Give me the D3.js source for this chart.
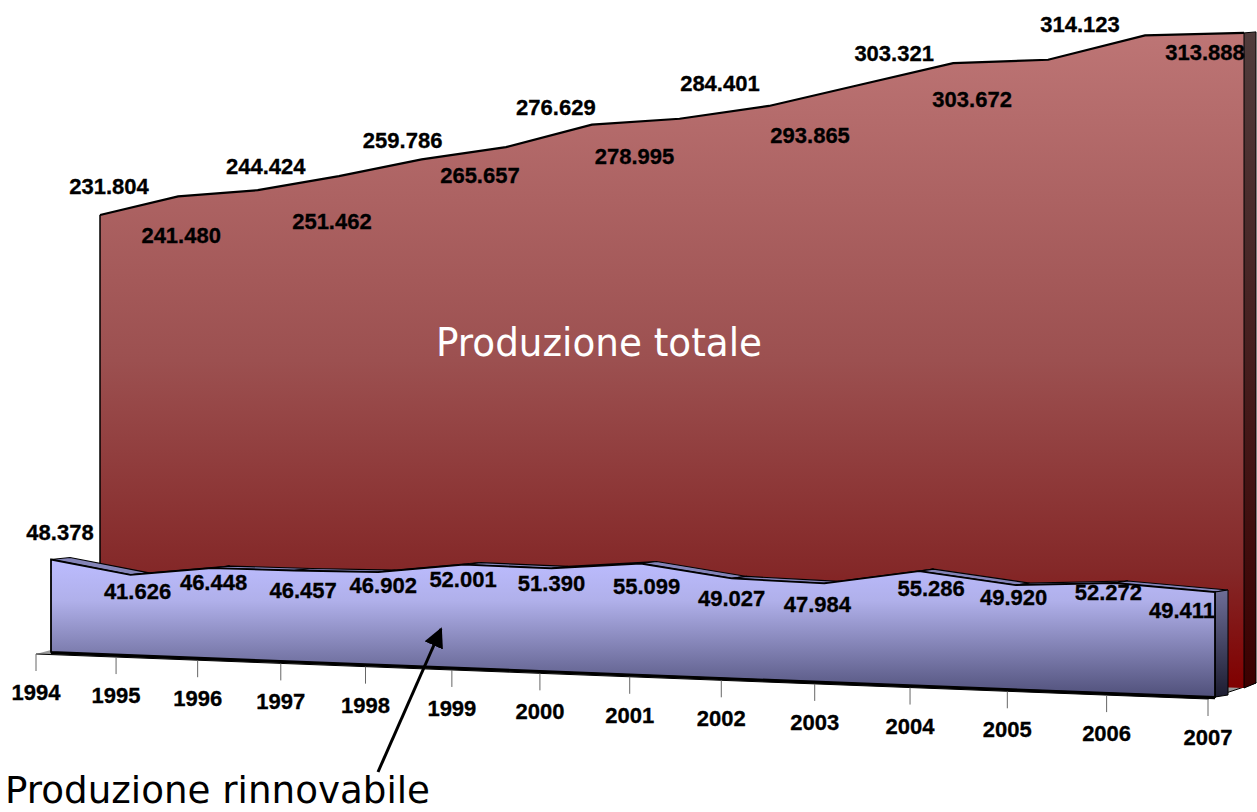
<!DOCTYPE html>
<html>
<head>
<meta charset="utf-8">
<script src="https://cdn.jsdelivr.net/npm/d3@7"></script>
<style>
  html, body { margin: 0; padding: 0; background: #fff; overflow: hidden; }
  text { font-family: "Liberation Sans", Arial, sans-serif; }
</style>
</head>
<body>
<div id="chart"></div>
<script>
// values
const years = [1994, 1995, 1996, 1997, 1998, 1999, 2000, 2001, 2002, 2003, 2004, 2005, 2006, 2007];
const totale = [231804, 241480, 244424, 251462, 259786, 265657, 276629, 278995, 284401, 293865, 303321, 303672, 314123, 313888];
const rinnovabile = [48378, 41626, 46448, 46457, 46902, 52001, 51390, 55099, 49027, 47984, 55286, 49920, 52272, 49411];

// label nudges from their point, [dx, dy]
const totaleNudge = [[9, -21], [3, 47], [8, -16], [-7, 53], [-19, -11], [-26, 36], [-36, -10], [-45, 45], [-49, -15], [-50, 58], [-59, -2], [-76, 47], [-65, -3], [-39, 27]];
const rinnovabileNudge = [[9, -20], [7, 24], [2, 22], [9, 27], [5, 21], [-1, 22], [0, 23], [6, 30], [0, 28], [-7, 29], [12, 25], [-2, 20], [-6, 17], [-33, 26]];

const w = 1257, h = 812;
const formatValue = v => d3.format(",")(v).replace(",", ".");

const svg = d3.select("#chart")
    .append("svg")
    .attr("width", w)
    .attr("height", h)
    .style("display", "block");

// perspective: years come closer to the viewer going right
const c = 0.12;
const yearScale = d3.scaleLinear().domain([1994, 2007]).range([0, 1]);
const persp = yr => {
    const t = yearScale(yr);
    return t * (1 - c) / (1 - c * t);
};

// a vertical plane of the 3D box, given by its two ends
const plane = (xs, bases, ks) => {
    const x = d3.scaleLinear().range(xs);
    const base = d3.scaleLinear().range(bases);
    const k = d3.scaleLinear().domain(d3.range(ks.length).map(i => i / (ks.length - 1))).range(ks);
    return {
        x: yr => x(persp(yr)),
        base: yr => base(persp(yr)),
        y: (yr, v) => base(persp(yr)) - k(persp(yr)) * v / 1000
    };
};

const totFront = plane([100, 1244], [648, 688], [1.868, 1.968, 2.087]);
const renFront = plane([51, 1215], [652, 697], [1.912, 2.125]);
const renBack = plane([70, 1228], [650, 695], [1.912, 2.125]);
const axisPlane = plane([36, 1208], [654, 699], [0, 0]);

// gradients
const defs = svg.append("defs");
const addGradient = (id, stops) => {
    defs.append("linearGradient")
        .attr("id", id)
        .attr("x1", 0).attr("y1", 0).attr("x2", 0).attr("y2", 1)
        .selectAll("stop")
        .data(stops)
        .join("stop")
        .attr("offset", d => d[0])
        .attr("stop-color", d => d[1]);
};
addGradient("gradTot", [[0, "#bd7575"], [0.5, "#9c5050"], [0.82, "#842828"], [1, "#800000"]]);
addGradient("gradTotSide", [[0, "#503c3c"], [1, "#3c0000"]]);
addGradient("gradRen", [[0, "#bcbcff"], [0.3, "#b0b0ea"], [1, "#50507a"]]);
addGradient("gradRenSide", [[0, "#6e6e98"], [1, "#1c1c30"]]);

defs.append("marker")
    .attr("id", "arrowhead")
    .attr("viewBox", "0 0 10 10")
    .attr("refX", 9)
    .attr("refY", 5)
    .attr("markerUnits", "userSpaceOnUse")
    .attr("markerWidth", 20)
    .attr("markerHeight", 20)
    .attr("orient", "auto")
    .append("path")
    .attr("d", "M0,0 L10,5 L0,10 Z")
    .attr("fill", "#000");

// floor
svg.append("path")
    .attr("d", d3.line()([
        [axisPlane.x(1994), axisPlane.base(1994)],
        [axisPlane.x(2007), axisPlane.base(2007)],
        [1256, 683],
        [1245, 650],
        [51, 650]
    ]))
    .attr("fill", "#9a9a9a")
    .attr("stroke", "#000")
    .attr("stroke-width", 1);

// produzione totale
const totTop = years.map((yr, i) => [totFront.x(yr), totFront.y(yr, totale[i])]);

svg.append("path")
    .attr("d", d3.line()([
        ...totTop,
        [totFront.x(2007), totFront.base(2007)],
        [totFront.x(1994), totFront.base(1994)]
    ]) + "Z")
    .attr("fill", "url(#gradTot)");

svg.append("path")
    .attr("d", d3.line()([
        [totFront.x(2007), totFront.y(2007, totale[13])],
        [1256, totFront.y(2007, totale[13]) - 1],
        [1256, 683],
        [totFront.x(2007), totFront.base(2007)]
    ]) + "Z")
    .attr("fill", "url(#gradTotSide)")
    .attr("stroke", "#000")
    .attr("stroke-width", 1);

svg.append("path")
    .attr("d", d3.line()(totTop))
    .attr("fill", "none")
    .attr("stroke", "#000")
    .attr("stroke-width", 2.2);

svg.append("line")
    .attr("x1", totTop[0][0]).attr("y1", totTop[0][1])
    .attr("x2", totTop[0][0]).attr("y2", totFront.base(1994))
    .attr("stroke", "#000")
    .attr("stroke-width", 1.5);

// produzione rinnovabile, top faces first and then the front
const renTop = years.map((yr, i) => [renFront.x(yr), renFront.y(yr, rinnovabile[i])]);
const renTopBack = years.map((yr, i) => [renBack.x(yr), renBack.y(yr, rinnovabile[i])]);

svg.selectAll(".topface")
    .data(d3.pairs(d3.range(years.length)))
    .join("path")
    .attr("class", "topface")
    .attr("d", d => d3.line()([renTop[d[0]], renTop[d[1]], renTopBack[d[1]], renTopBack[d[0]]]) + "Z")
    .attr("fill", "#8484b8")
    .attr("stroke", "#000")
    .attr("stroke-width", 1.2);

svg.append("path")
    .attr("d", d3.line()([
        renTop[13],
        renTopBack[13],
        [renBack.x(2007), renBack.base(2007)],
        [renFront.x(2007), renFront.base(2007)]
    ]) + "Z")
    .attr("fill", "url(#gradRenSide)")
    .attr("stroke", "#000")
    .attr("stroke-width", 1);

svg.append("path")
    .attr("d", d3.line()([
        ...renTop,
        [renFront.x(2007), renFront.base(2007)],
        [renFront.x(1994), renFront.base(1994)]
    ]) + "Z")
    .attr("fill", "url(#gradRen)")
    .attr("stroke", "#000")
    .attr("stroke-width", 1.8);

// the dark rim along the bottom of the front
svg.append("line")
    .attr("x1", axisPlane.x(1994) + 15).attr("y1", renFront.base(1994) + 1)
    .attr("x2", renFront.x(2007)).attr("y2", renFront.base(2007) + 1)
    .attr("stroke", "#000")
    .attr("stroke-width", 2.4);

// ticks and year labels
svg.selectAll(".tick")
    .data(years)
    .join("line")
    .attr("class", "tick")
    .attr("x1", d => axisPlane.x(d))
    .attr("x2", d => axisPlane.x(d))
    .attr("y1", d => axisPlane.base(d))
    .attr("y2", d => axisPlane.base(d) + 17)
    .attr("stroke", "#666")
    .attr("stroke-width", 1);

svg.selectAll(".year")
    .data(years)
    .join("text")
    .attr("class", "year")
    .attr("x", d => axisPlane.x(d))
    .attr("y", d => axisPlane.base(d) + 46)
    .attr("text-anchor", "middle")
    .style("font-size", "22px")
    .style("font-weight", "bold")
    .style("stroke", "#000")
    .style("stroke-width", 0.3)
    .text(d => d);

// value labels
const addLabels = (cls, pts, vals, nudge) => {
    svg.selectAll("." + cls)
        .data(vals)
        .join("text")
        .attr("class", cls)
        .attr("x", (d, i) => pts[i][0] + nudge[i][0])
        .attr("y", (d, i) => pts[i][1] + nudge[i][1])
        .attr("text-anchor", "middle")
        .style("font-size", "22px")
        .style("font-weight", "bold")
        .style("stroke", "#000")
        .style("stroke-width", 0.3)
        .text(d => formatValue(d));
};
addLabels("lab-tot", totTop, totale, totaleNudge);
addLabels("lab-ren", renTop, rinnovabile, rinnovabileNudge);

// annotations
svg.append("text")
    .attr("x", 599)
    .attr("y", 356)
    .attr("text-anchor", "middle")
    .attr("fill", "#fff")
    .style("font-family", "'DejaVu Sans'")
    .style("font-size", "39px")
    .attr("textLength", 326)
    .attr("lengthAdjust", "spacingAndGlyphs")
    .text("Produzione totale");

svg.append("text")
    .attr("x", 5)
    .attr("y", 803)
    .attr("fill", "#000")
    .style("font-family", "'DejaVu Sans'")
    .style("font-size", "38px")
    .attr("textLength", 425)
    .attr("lengthAdjust", "spacingAndGlyphs")
    .text("Produzione rinnovabile");

svg.append("line")
    .attr("x1", 378).attr("y1", 772)
    .attr("x2", 441).attr("y2", 629)
    .attr("stroke", "#000")
    .attr("stroke-width", 3)
    .attr("marker-end", "url(#arrowhead)");
</script>
</body>
</html>
